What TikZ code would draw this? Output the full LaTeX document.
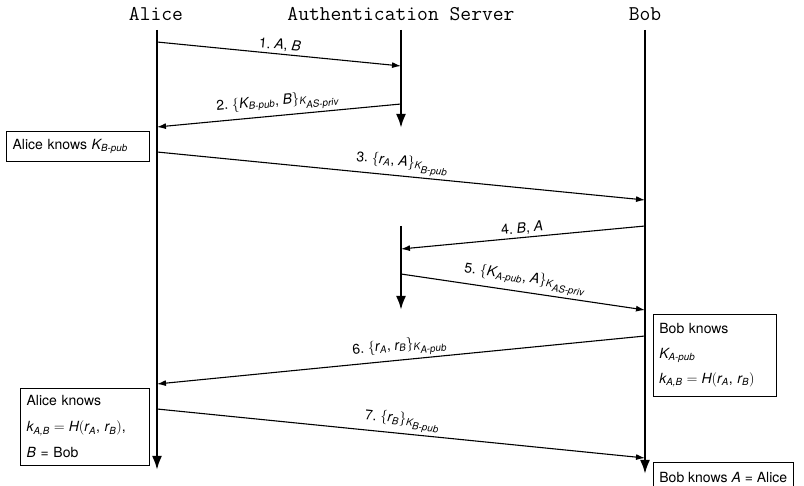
\documentclass[tikz,border=0pt]{standalone}
\usepackage{amsmath}
\usepackage{fontspec}
\setmainfont{TeX Gyre Heros}
\usepackage{tikz}
\usetikzlibrary{arrows.meta, positioning, calc}

% italic sans letters inside math
\newcommand{\mv}[1]{\text{\itshape #1}}
% key with a subscript that keeps script size
\newcommand{\kk}[2]{\mv{#1}_{\scriptstyle\mv{#2}}}
% comma between items
\newcommand{\sepc}{\text{,}\ }

\begin{document}
\begin{tikzpicture}[
  x=1pt, y=-1pt,
  actor/.style={font=\fontsize{21}{24}\selectfont\ttfamily, anchor=base},
  lifeline/.style={line width=2.4pt, -{Latex[length=14pt, width=10pt]}},
  msg/.style={line width=1.1pt, -{Latex[length=9pt, width=6pt]}},
  msglabel/.style={font=\fontsize{14}{16}\selectfont, sloped, above, inner sep=2pt},
  knowbox/.style={rectangle, draw, line width=0.8pt, align=left,
                  inner xsep=6pt, inner ysep=3pt}
]
\useasboundingbox (0,0) rectangle (804,486);

% ── Actors ──
\node[actor] (alice) at (156,21) {Alice};
\node[actor] (as)    at (401,21) {Authentication Server};
\node[actor] (bob)   at (645,21) {Bob};

% ── Lifelines ──
\coordinate (aliceTop) at (157,30);  \coordinate (aliceEnd) at (157,470);
\coordinate (asTop)    at (401,30);  \coordinate (asEnd)    at (401,128);
\coordinate (asTopB)   at (401,226); \coordinate (asEndB)   at (401,310);
\coordinate (bobTop)   at (645,30);  \coordinate (bobEnd)   at (645,474);
\draw[lifeline] (aliceTop) -- (aliceEnd);
\draw[lifeline] (asTop) -- (asEnd);
\draw[lifeline] (asTopB) -- (asEndB);
\draw[lifeline] (bobTop) -- (bobEnd);

% ── Message end points ──
\coordinate (m1s) at (157,42);  \coordinate (m1e) at (401,66);
\coordinate (m2s) at (401,104); \coordinate (m2e) at (157,127);
\coordinate (m3s) at (157,152); \coordinate (m3e) at (645,200);
\coordinate (m4s) at (645,226); \coordinate (m4e) at (401,249);
\coordinate (m5s) at (401,274); \coordinate (m5e) at (645,310);
\coordinate (m6s) at (645,336); \coordinate (m6e) at (157,384);
\coordinate (m7s) at (157,409); \coordinate (m7e) at (645,458);

% ── Messages ──
\draw[msg] (m1s) -- node[msglabel] {1.~$\mv{A}\sepc\mv{B}$} (m1e);
\draw[msg] (m2s) -- node[msglabel]
  {2.~$\{\kk{K}{B-pub}\sepc\mv{B}\}_{\kk{K}{AS-priv}}$} (m2e);
\draw[msg] (m3s) -- node[msglabel]
  {3.~$\{\kk{r}{A}\sepc\mv{A}\}_{\kk{K}{B-pub}}$} (m3e);
\draw[msg] (m4s) -- node[msglabel] {4.~$\mv{B}\sepc\mv{A}$} (m4e);
\draw[msg] (m5s) -- node[msglabel]
  {5.~$\{\kk{K}{A-pub}\sepc\mv{A}\}_{\kk{K}{AS-priv}}$} (m5e);
\draw[msg] (m6s) -- node[msglabel]
  {6.~$\{\kk{r}{A}\sepc\kk{r}{B}\}_{\kk{K}{A-pub}}$} (m6e);
\draw[msg] (m7s) -- node[msglabel]
  {7.~$\{\kk{r}{B}\}_{\kk{K}{B-pub}}$} (m7e);

% ── Knowledge boxes ──
\node[knowbox, anchor=north east, text width=131pt, minimum height=30pt,
      font=\fontsize{14}{26}\selectfont] (aliceKnows1)
  at (150,131) {Alice knows $\kk{K}{B-pub}$};
\node[knowbox, anchor=north west, text width=111pt, minimum height=82pt,
      font=\fontsize{14}{25}\selectfont] (bobKnows1)
  at (653,314) {Bob knows\\ $\kk{K}{A-pub}$\\ $\kk{k}{A,B} = \mv{H}(\kk{r}{A}\sepc\kk{r}{B})$};
\node[knowbox, anchor=north east, text width=117pt, minimum height=77pt,
      font=\fontsize{14}{26}\selectfont] (aliceKnows2)
  at (150,388) {Alice knows\\ $\kk{k}{A,B} = \mv{H}(\kk{r}{A}\sepc\kk{r}{B})$,\\ \textit{B} = Bob};
\node[knowbox, anchor=north west, minimum height=30pt,
      font=\fontsize{14}{26}\selectfont] (bobKnows2)
  at (653,462) {Bob knows \textit{A} = Alice};

\end{tikzpicture}
\end{document}
